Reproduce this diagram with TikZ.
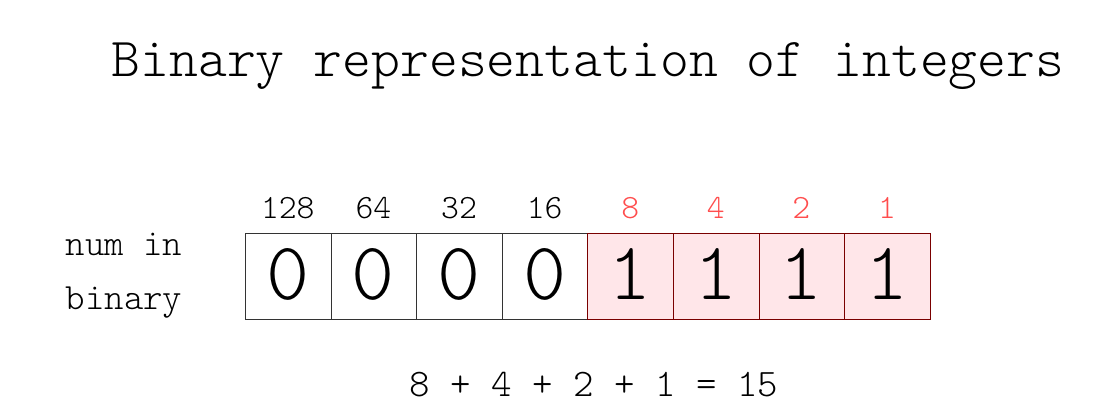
\documentclass[tikz,border=0pt]{standalone}
\usepackage{fontspec}
\setmainfont{Latin Modern Mono Light}
\definecolor{lblred}{HTML}{FF4D4D}
\definecolor{cellfill}{HTML}{FFE6E9}
\definecolor{cellborder}{HTML}{7A0000}
\begin{document}
\begin{tikzpicture}[x=1pt,y=-1pt,
  title/.style={font=\fontsize{55}{55}\selectfont, anchor=base},
  lbl/.style={font=\fontsize{37}{37}\selectfont, anchor=base},
  cell/.style={draw=black!80, line width=0.8pt, minimum width=85.6pt, minimum height=86pt, inner sep=0pt, anchor=north west},
  hot/.style={cell, draw=cellborder, fill=cellfill},
  bit/.style={font=\fontsize{82}{82}\selectfont, anchor=base},
  weight/.style={font=\fontsize{34}{34}\selectfont, anchor=base},
  hotweight/.style={weight, text=lblred}
]
\useasboundingbox (0,0) rectangle (1104,412);
\node[title] (title) at (588,77) {Binary representation of integers};
\node[lbl] (num) at (124,255) {num in};
\node[lbl] (bin) at (124,309) {binary};
\foreach \i/\w/\b in {0/128/0,1/64/0,2/32/0,3/16/0}{
  \node[cell] (c\i) at ({245+85.6*\i},233) {};
  \node[bit] (b\i) at ({245+85.6*\i+42.8},299) {\b};
  \node[weight] (w\i) at ({245+85.6*\i+42.8},218) {\w};
}
\foreach \i/\w/\b in {4/8/1,5/4/1,6/2/1,7/1/1}{
  \node[hot] (c\i) at ({245+85.6*\i},233) {};
  \node[bit] (b\i) at ({245+85.6*\i+42.8},299) {\b};
  \node[hotweight] (w\i) at ({245+85.6*\i+42.8},218) {\w};
}
\node[font=\fontsize{39}{39}\selectfont, anchor=base] (eq) at (594,396) {8 + 4 + 2 + 1 = 15};
\end{tikzpicture}
\end{document}
